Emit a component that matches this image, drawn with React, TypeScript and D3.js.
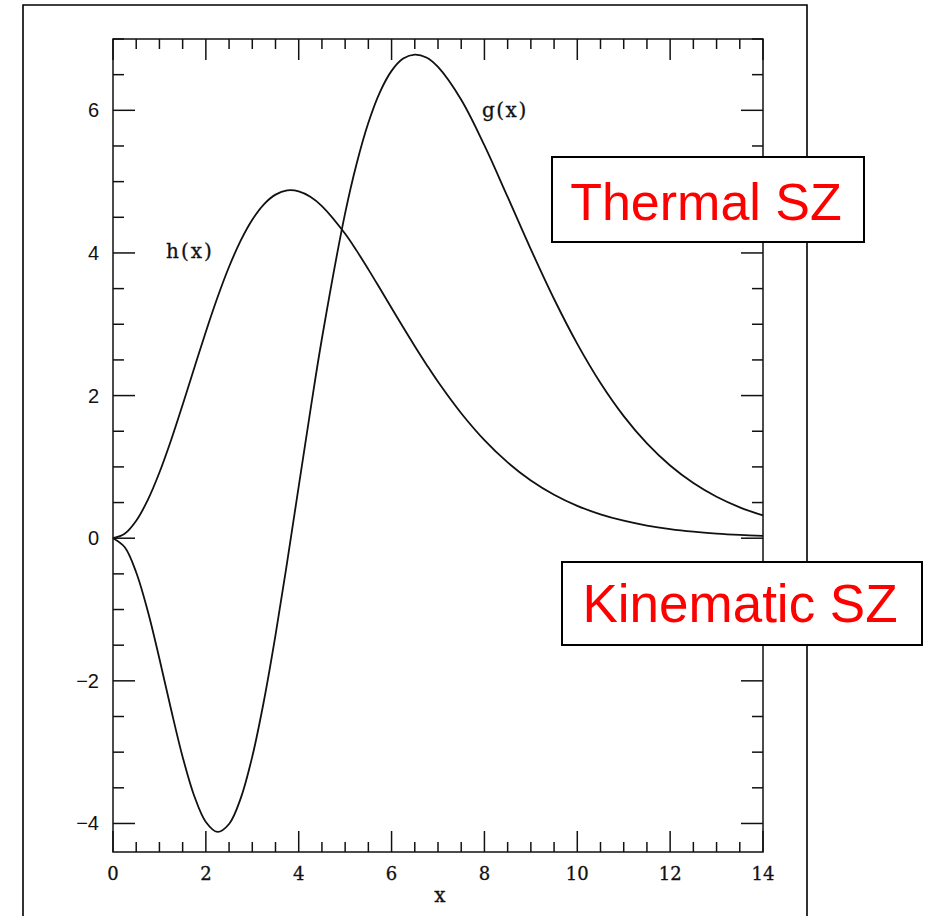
import React from "react";
import * as d3 from "d3";

// x grid (dimensionless frequency)
const xs = [0, 0.25, 0.5, 0.75, 1, 1.25, 1.5, 1.75, 2, 2.25, 2.5, 2.75, 3, 3.25, 3.5, 3.75, 4, 4.25, 4.5, 5, 5.25, 5.5, 5.75, 6, 6.25, 6.5, 6.75, 7, 7.5, 8, 8.5, 9, 9.5, 10, 10.5, 11, 11.5, 12, 12.5, 13, 13.5, 14];
// h(x) kinematic SZ
const hVals = [0, 0.062, 0.245, 0.537, 0.921, 1.374, 1.872, 2.387, 2.896, 3.375, 3.806, 4.173, 4.466, 4.682, 4.818, 4.877, 4.865, 4.789, 4.658, 4.269, 4.029, 3.770, 3.501, 3.229, 2.957, 2.692, 2.437, 2.193, 1.752, 1.375, 1.063, 0.810, 0.610, 0.454, 0.335, 0.245, 0.177, 0.127, 0.091, 0.065, 0.046, 0.032];
// g(x) thermal SZ
const gVals = [0, -0.124, -0.480, -1.024, -1.690, -2.399, -3.067, -3.614, -3.979, -4.118, -4.007, -3.648, -3.062, -2.283, -1.360, -0.338, 0.726, 1.787, 2.800, 4.558, 5.259, 5.826, 6.256, 6.553, 6.725, 6.782, 6.741, 6.608, 6.147, 5.507, 4.785, 4.051, 3.354, 2.725, 2.176, 1.712, 1.329, 1.019, 0.773, 0.581, 0.433, 0.319];

const xTickLabels = [0, 2, 4, 6, 8, 10, 12, 14];
const yTickLabels = [-4, -2, 0, 2, 4, 6];

export default function App() {
  const W = 925, H = 916;
  const left = 113, right = 763, top = 39, bottom = 852;
  const x = d3.scaleLinear().domain([0, 14]).range([left, right]);
  const y = d3.scaleLinear().domain([-4.4, 7]).range([bottom, top]);

  const line = d3
    .line<number>()
    .x((_, i) => x(xs[i]))
    .y((d) => y(d))
    .curve(d3.curveCatmullRom.alpha(0.5));

  const xMinor = d3.range(0, 14.001, 0.5);
  const yMinor = d3.range(-4, 7.001, 0.5);
  const serif = "'DejaVu Serif', 'Liberation Serif', serif";
  const sans = "'Liberation Sans', Arial, sans-serif";

  return (
    <svg width={W} height={H} style={{ position: "absolute", left: 0, top: 0, background: "#fff" }}>
      <rect x={0} y={0} width={W} height={H} fill="#fff" />
      {/* outer frame */}
      <path d={`M23,${H + 5} L23,5 L807,5 L807,${H + 5}`} fill="none" stroke="#000" strokeWidth={1.6} />
      {/* plot frame */}
      <rect x={left} y={top} width={right - left} height={bottom - top} fill="none" stroke="#111" strokeWidth={1.5} />
      {/* x ticks */}
      {xMinor.map((v) => {
        const major = Math.abs(v % 2) < 1e-6;
        const len = major ? 21 : 10;
        return (
          <g key={"xt" + v}>
            <line x1={x(v)} x2={x(v)} y1={bottom} y2={bottom - len} stroke="#111" strokeWidth={1.5} />
            <line x1={x(v)} x2={x(v)} y1={top} y2={top + len} stroke="#111" strokeWidth={1.5} />
          </g>
        );
      })}
      {/* y ticks */}
      {yMinor.map((v) => {
        const major = Math.abs(v % 2) < 1e-6;
        const len = major ? 22 : 11;
        return (
          <g key={"yt" + v}>
            <line x1={left} x2={left + len} y1={y(v)} y2={y(v)} stroke="#111" strokeWidth={1.5} />
            <line x1={right} x2={right - len} y1={y(v)} y2={y(v)} stroke="#111" strokeWidth={1.5} />
          </g>
        );
      })}
      {xTickLabels.map((v) => (
        <text key={"xl" + v} x={x(v)} y={880} textAnchor="middle" fontFamily={serif} fontSize={18} fill="#111" stroke="#111" strokeWidth={0.3}>
          {v}
        </text>
      ))}
      {yTickLabels.map((v) => (
        <text key={"yl" + v} x={99} y={y(v) + 7} textAnchor="end" fontFamily={sans} fontSize={20} fill="#111">
          {v < 0 ? "\u2212" + Math.abs(v) : v}
        </text>
      ))}
      <text x={440} y={902} textAnchor="middle" fontFamily={serif} fontSize={20} fill="#111" stroke="#111" strokeWidth={0.3}>x</text>
      {/* curves */}
      <path d={line(hVals) || ""} fill="none" stroke="#111" strokeWidth={1.8} />
      <path d={line(gVals) || ""} fill="none" stroke="#111" strokeWidth={1.8} />
      <text x={166} y={258} fontFamily={serif} fontSize={20} letterSpacing={2} fill="#111" stroke="#111" strokeWidth={0.3}>h(x)</text>
      <text x={482} y={117} fontFamily={serif} fontSize={20} letterSpacing={1.5} fill="#111" stroke="#111" strokeWidth={0.3}>g(x)</text>
      {/* annotation boxes */}
      <rect x={552} y={157} width={312} height={85} fill="#fff" stroke="#000" strokeWidth={2} />
      <text x={706} y={220} textAnchor="middle" fontFamily={sans} fontSize={52} fill="#ff0000">Thermal SZ</text>
      <rect x={562} y={562} width={360} height={83} fill="#fff" stroke="#000" strokeWidth={2} />
      <text x={740} y={622} textAnchor="middle" fontFamily={sans} fontSize={53} fill="#ff0000">Kinematic SZ</text>
    </svg>
  );
}
